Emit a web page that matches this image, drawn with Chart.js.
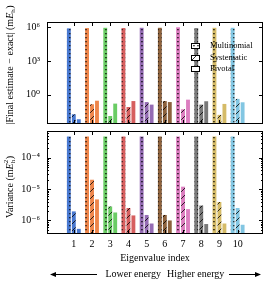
<!DOCTYPE html>
<html lang="en">
<head>
<meta charset="UTF-8">
<title>Eigenvalue errors</title>
<script src="https://cdn.jsdelivr.net/npm/chart.js@4.4.0/dist/chart.umd.min.js"></script>
<style>
  body { margin: 0; background: #fff; }
  #wrap { position: relative; width: 271px; height: 285px; }
  #top { position: absolute; left: 0; top: 0; }
  #bottom { position: absolute; left: 0; top: 128px; }
</style>
</head>
<body>
<div id="wrap">
  <canvas id="top" width="271" height="128"></canvas>
  <canvas id="bottom" width="271" height="157"></canvas>
</div>
<script>
// data
const eigIndex = [1, 2, 3, 4, 5, 6, 7, 8, 9, 10];
const groupColors = ['#4878d0', '#ee854a', '#6acc64', '#d65f5f', '#956cb4',
                     '#8c613c', '#dc7ec0', '#797979', '#d5bb67', '#82c6e2'];
const seriesNames = ['Multinomial', 'Systematic', 'Pivotal'];

// |final estimate - exact| (mEh)
const errMultinomial = [8e5, 8.5e5, 9e5, 8.5e5, 9e5, 9e5, 1e6, 8.5e5, 9e5, 9e5];
const errSystematic  = [0.018, 0.14, 0.0126, 0.08, 0.22, 0.27, 0.05, 0.13, 0.016, 0.42];
const errPivotal     = [0.0065, 0.29, 0.16, 0.27, 0.13, 0.22, 0.36, 0.26, 0.15, 0.21];

// variance (mEh^2)
const varMultinomial = [4.8e-4, 4.8e-4, 4.8e-4, 4.8e-4, 4.8e-4, 4.8e-4, 4.8e-4, 4.8e-4, 4.8e-4, 4.8e-4];
const varSystematic  = [1.95e-6, 2e-5, 2.8e-6, 2.5e-6, 1.5e-6, 1.5e-6, 1.2e-5, 3e-6, 3.9e-6, 2.5e-6];
const varPivotal     = [5.4e-7, 4.7e-6, 1.8e-6, 1.45e-6, 8e-7, 1e-6, 2.3e-6, 7.7e-7, 8e-7, 7.3e-7];

const errTicks = [1, 1e3, 1e6];
const varTicks = [4e-7, 5e-7, 6e-7, 7e-7, 8e-7, 9e-7,
                  1e-6, 2e-6, 3e-6, 4e-6, 5e-6, 6e-6, 7e-6, 8e-6, 9e-6,
                  1e-5, 2e-5, 3e-5, 4e-5, 5e-5, 6e-5, 7e-5, 8e-5, 9e-5,
                  1e-4, 2e-4, 3e-4, 4e-4, 5e-4, 6e-4, 7e-4];

const SERIF = '"Liberation Serif", "DejaVu Serif", serif';

// axis titles with a bit of math (italic E, subscript h)
const errTitle = [{t: '|Final estimate − exact| (m'}, {t: 'E', it: true}, {sub: 'h'}, {t: ')'}];
const varTitle = [{t: 'Variance (m'}, {t: 'E', it: true}, {sub: 'h', sup: '2'}, {t: ')'}];

// patterns for the bars
function makePattern(color, kind) {
  const c = document.createElement('canvas');
  const n = kind === 'hatch' ? 7 : 4;
  c.width = n; c.height = n;
  const g = c.getContext('2d');
  g.fillStyle = color;
  g.fillRect(0, 0, n, n);
  g.fillStyle = '#000';
  g.strokeStyle = '#000';
  if (kind === 'dots') {
    g.fillRect(1.3, 1, 1.3, 1.3);
  } else if (kind === 'hatch') {
    g.lineWidth = 0.8;
    g.beginPath();
    g.moveTo(0, n); g.lineTo(n, 0);
    g.moveTo(-1, 1); g.lineTo(1, -1);
    g.moveTo(n - 1, n + 1); g.lineTo(n + 1, n - 1);
    g.stroke();
  }
  return g.createPattern(c, 'repeat');
}
const kinds = ['dots', 'hatch', 'plain'];

const supDigits = {'0':'⁰','1':'¹','2':'²','3':'³','4':'⁴','5':'⁵','6':'⁶','7':'⁷','8':'⁸','9':'⁹','-':'⁻'};
function isDecade(v) {
  const e = Math.log10(v);
  return Math.abs(e - Math.round(e)) < 1e-6;
}
function decadeLabel(v) {
  const e = Math.round(Math.log10(v));
  return '10' + String(e).split('').map(ch => supDigits[ch]).join('');
}

function drawRotTitle(ctx, segs, cx, cy) {
  const big = '10px ' + SERIF, ital = 'italic 10px ' + SERIF, small = '7px ' + SERIF;
  const widths = segs.map(s => {
    if (s.t !== undefined) { ctx.font = s.it ? ital : big; return ctx.measureText(s.t).width; }
    ctx.font = small;
    return Math.max(ctx.measureText(s.sub || '').width, ctx.measureText(s.sup || '').width) + 0.5;
  });
  const total = widths.reduce((a, b) => a + b, 0);
  ctx.save();
  ctx.translate(cx, cy);
  ctx.rotate(-Math.PI / 2);
  ctx.fillStyle = '#000';
  ctx.textBaseline = 'alphabetic';
  ctx.textAlign = 'left';
  let x = -total / 2;
  const base = 3.5;
  segs.forEach((s, k) => {
    if (s.t !== undefined) {
      ctx.font = s.it ? ital : big;
      ctx.fillText(s.t, x, base);
    } else {
      ctx.font = small;
      if (s.sub) ctx.fillText(s.sub, x, base + 2);
      if (s.sup) ctx.fillText(s.sup, x, base - 5);
    }
    x += widths[k];
  });
  ctx.restore();
}

// frame + inward ticks like matplotlib, plus y title
const frameTicks = {
  id: 'frameTicks',
  afterDraw(chart) {
    const {ctx, chartArea: a, scales} = chart;
    ctx.save();
    ctx.setLineDash([]);
    ctx.strokeStyle = '#000';
    ctx.lineWidth = 1;
    ctx.strokeRect(a.left + 0.5, a.top + 0.5, a.right - a.left - 1, a.bottom - a.top - 1);
    ctx.beginPath();
    eigIndex.forEach(i => {
      const px = Math.round(scales.x.getPixelForValue(i)) + 0.5;
      ctx.moveTo(px, a.top); ctx.lineTo(px, a.top + 4);
      ctx.moveTo(px, a.bottom); ctx.lineTo(px, a.bottom - 4);
    });
    scales.y.ticks.forEach(t => {
      const py = Math.round(scales.y.getPixelForValue(t.value)) + 0.5;
      const len = isDecade(t.value) ? 4 : 2;
      ctx.moveTo(a.left, py); ctx.lineTo(a.left + len, py);
      ctx.moveTo(a.right, py); ctx.lineTo(a.right - len, py);
    });
    ctx.stroke();
    ctx.restore();
    const yt = chart.options.plugins.frameTicks;
    drawRotTitle(ctx, yt.title, 9, yt.titleY);
  }
};

const legendPlugin = {
  id: 'patternLegend',
  afterDraw(chart) {
    const ctx = chart.ctx;
    const rows = [46, 57.5, 69];
    ctx.save();
    ctx.setLineDash([]);
    ctx.font = '8.5px ' + SERIF;
    ctx.textBaseline = 'middle';
    ctx.textAlign = 'left';
    seriesNames.forEach((name, k) => {
      const y = Math.round(rows[k]);
      ctx.fillStyle = makePattern('#ffffff', kinds[k]);
      ctx.fillRect(192, y - 2.5, 7, 5);
      ctx.strokeStyle = '#000';
      ctx.lineWidth = 1;
      ctx.strokeRect(191.5, y - 2.5, 8, 5);
      ctx.fillStyle = '#000';
      ctx.fillText(name, 210, y);
    });
    ctx.restore();
  }
};

const energyArrows = {
  id: 'energyArrows',
  afterDraw(chart) {
    const ctx = chart.ctx;
    const y = 146.5;
    ctx.save();
    ctx.setLineDash([]);
    ctx.strokeStyle = '#000';
    ctx.fillStyle = '#000';
    ctx.lineWidth = 1;
    ctx.beginPath();
    ctx.moveTo(97, y); ctx.lineTo(54, y);
    ctx.moveTo(229, y); ctx.lineTo(257, y);
    ctx.stroke();
    ctx.beginPath();
    ctx.moveTo(50, y); ctx.lineTo(56, y - 2.5); ctx.lineTo(56, y + 2.5); ctx.closePath();
    ctx.moveTo(261, y); ctx.lineTo(255, y - 2.5); ctx.lineTo(255, y + 2.5); ctx.closePath();
    ctx.fill();
    ctx.font = '10px ' + SERIF;
    ctx.textBaseline = 'middle';
    ctx.textAlign = 'right';
    ctx.fillText('Lower energy', 161, y);
    ctx.textAlign = 'left';
    ctx.fillText('Higher energy', 167, y);
    ctx.restore();
  }
};

function makeDatasets(series) {
  return series.map((vals, k) => ({
    label: seriesNames[k],
    data: eigIndex.map((x, i) => ({x: x, y: vals[i]})),
    backgroundColor: groupColors.map(c => makePattern(c, kinds[k])),
    borderWidth: 0,
    categoryPercentage: 0.82,
    barPercentage: 0.78
  }));
}

function makeChart(canvas, series, yMin, yMax, yTicks, yTitle, titleY, withX, padding, extra) {
  return new Chart(canvas, {
    type: 'bar',
    data: { datasets: makeDatasets(series) },
    options: {
      responsive: false,
      animation: false,
      devicePixelRatio: 1,
      layout: { padding: padding },
      plugins: {
        legend: { display: false },
        tooltip: { enabled: false },
        frameTicks: { title: yTitle, titleY: titleY }
      },
      scales: {
        x: {
          type: 'linear',
          min: 0.12,
          max: 10.8,
          afterBuildTicks: s => { s.ticks = eigIndex.map(v => ({value: v})); },
          afterFit: s => {
            s.height = withX ? 33 : 0;
            s.paddingLeft = 0; s.paddingRight = 0;
          },
          grid: { display: false, drawTicks: false },
          border: { display: false },
          ticks: {
            display: withX, autoSkip: false, maxRotation: 0, padding: 4,
            color: '#000', font: { family: SERIF, size: 10 }
          },
          title: {
            display: withX, text: 'Eigenvalue index', color: '#000',
            font: { family: SERIF, size: 10 }, padding: { top: 0, bottom: 3 }
          }
        },
        y: {
          type: 'logarithmic',
          min: yMin,
          max: yMax,
          afterBuildTicks: s => { s.ticks = yTicks.map(v => ({value: v})); },
          afterFit: s => {
            s.width = 47;
            s.paddingTop = 0; s.paddingBottom = 0;
          },
          grid: { display: false, drawTicks: false },
          border: { display: false },
          ticks: {
            autoSkip: false, padding: 7, color: '#000',
            font: { family: SERIF, size: 10 },
            callback: v => isDecade(v) ? decadeLabel(v) : ''
          },
          title: { display: false }
        }
      }
    },
    plugins: [frameTicks].concat(extra)
  });
}

makeChart(document.getElementById('top'),
  [errMultinomial, errSystematic, errPivotal],
  0.00245, 2.95e6, errTicks, errTitle, 65, false,
  { left: 0, right: 8, top: 22, bottom: 4 }, [legendPlugin]);

makeChart(document.getElementById('bottom'),
  [varMultinomial, varSystematic, varPivotal],
  3.7e-7, 7.2e-4, varTicks, varTitle, 59, true,
  { left: 0, right: 8, top: 3, bottom: 18 }, [energyArrows]);
</script>
</body>
</html>
